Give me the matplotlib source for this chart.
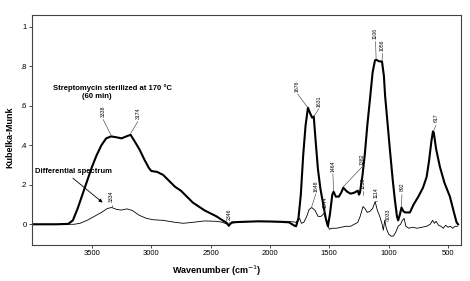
import matplotlib.pyplot as plt

plt.rcParams['font.family'] = ['Liberation Sans', 'DejaVu Sans']

# Streptomycin sterilized at 170 C (thick line)
wn_strep = [4000, 3900, 3800, 3700, 3660, 3620, 3580, 3540, 3500, 3460, 3420, 3380,
            3338, 3290, 3250, 3210, 3174, 3140, 3100, 3060, 3020, 3000, 2950, 2900,
            2850, 2800, 2750, 2700, 2650, 2600, 2550, 2500, 2450, 2400, 2370, 2346,
            2320, 2250, 2100, 2000, 1900, 1840, 1800, 1780, 1760, 1740, 1720, 1700,
            1680, 1660, 1645, 1631, 1615, 1596, 1575, 1554, 1530, 1512, 1495, 1475,
            1464, 1445, 1420, 1400, 1382, 1350, 1320, 1290, 1260, 1250, 1242, 1220,
            1200, 1180, 1158, 1135, 1115, 1106, 1080, 1056, 1040, 1030, 1015, 990,
            965, 947, 930, 920, 905, 892, 875, 860, 821, 790, 750, 711, 680, 660,
            640, 627, 620, 600, 568, 530, 484, 450, 428, 415]
km_strep = [0.0, 0.0, 0.0, 0.002, 0.02, 0.08, 0.15, 0.22, 0.29, 0.35, 0.40, 0.435,
            0.445, 0.44, 0.435, 0.445, 0.453, 0.42, 0.38, 0.33, 0.285, 0.27, 0.265, 0.25,
            0.22, 0.19, 0.17, 0.14, 0.11, 0.09, 0.07, 0.055, 0.04, 0.02, 0.01, -0.005,
            0.01, 0.012, 0.015, 0.014, 0.012, 0.01, -0.005, -0.01, 0.03, 0.15, 0.35, 0.5,
            0.59, 0.56, 0.54, 0.545, 0.42, 0.28, 0.18, 0.11, 0.03, -0.01, 0.05, 0.15,
            0.165, 0.14, 0.14, 0.16, 0.185, 0.165, 0.155, 0.16, 0.17, 0.15, 0.16, 0.25,
            0.36, 0.5, 0.63, 0.77, 0.83, 0.833, 0.825, 0.824, 0.75, 0.65, 0.55, 0.38,
            0.22, 0.12, 0.04, 0.02, 0.05, 0.085, 0.065, 0.06, 0.06, 0.1, 0.14, 0.185,
            0.24, 0.32, 0.42, 0.47, 0.465, 0.38, 0.29, 0.21, 0.14, 0.06, 0.01, 0.0]

# Differential spectrum (thin line)
wn_diff = [4000, 3700, 3650, 3600, 3540, 3480, 3420, 3370, 3334, 3290, 3250, 3205,
           3160, 3100, 3040, 2985, 2900, 2800, 2730, 2650, 2550, 2450, 2400, 2360,
           2346, 2330, 2250, 2100, 1950, 1860, 1800, 1780, 1765, 1750, 1735, 1715,
           1690, 1670, 1648, 1620, 1595, 1570, 1544, 1520, 1500, 1480, 1440, 1400,
           1360, 1320, 1290, 1260, 1240, 1216, 1200, 1180, 1160, 1135, 1114, 1095,
           1075, 1055, 1045, 1033, 1020, 1000, 980, 960, 940, 920, 900, 885, 870,
           855, 830, 800, 760, 720, 680, 650, 630, 615, 600, 580, 560, 540, 520,
           500, 480, 460, 440, 420]
km_diff = [0.0, 0.0, 0.0, 0.005, 0.02, 0.04, 0.06, 0.08, 0.085, 0.075, 0.072, 0.078,
           0.07, 0.045, 0.03, 0.023, 0.02, 0.01, 0.005, 0.01, 0.017, 0.015, 0.01, 0.0,
           -0.012, 0.005, 0.012, 0.015, 0.015, 0.015, 0.012, 0.01, 0.02, 0.03, 0.005, 0.01,
           0.04, 0.075, 0.085, 0.07, 0.04, 0.04, 0.055, 0.01, -0.025, -0.02, -0.02, -0.015,
           -0.01, -0.01, 0.0, 0.01, 0.04, 0.09, 0.08, 0.06, 0.065, 0.08, 0.115, 0.07,
           0.04, 0.0, -0.03, 0.02, -0.02, -0.05, -0.06, -0.06, -0.04, -0.01, 0.0, 0.02, 0.03,
           -0.01, -0.02, -0.015, -0.02, -0.015, -0.01, 0.0, 0.02, 0.005, 0.015, -0.005, -0.01,
           -0.02, -0.005, -0.015, -0.01, -0.02, -0.01, -0.01]

# peak labels: (text, label wn, label y, target wn, target y)
peak_labels = [
    ('3338', 3405, 0.57, 3338, 0.45),
    ('3174', 3113, 0.56, 3174, 0.46),
    ('3334', 3334, 0.14, 3334, 0.09),
    ('2346', 2346, 0.053, 2346, 0.0),
    ('1676', 1767, 0.70, 1680, 0.59),
    ('1631', 1588, 0.625, 1631, 0.545),
    ('1106', 1110, 0.965, 1106, 0.84),
    ('1056', 1052, 0.905, 1056, 0.83),
    ('617', 602, 0.54, 620, 0.475),
    ('1648', 1613, 0.195, 1648, 0.09),
    ('1544', 1537, 0.11, 1544, 0.06),
    ('1464', 1470, 0.295, 1464, 0.17),
    ('1382', 1225, 0.33, 1382, 0.19),
    ('1238', 1212, 0.21, 1212, 0.15),
    ('1114', 1102, 0.16, 1114, 0.12),
    ('1033', 1006, 0.053, 1033, 0.02),
    ('892', 888, 0.19, 892, 0.09),
]

fig = plt.figure(figsize=(4.7, 2.81), dpi=100)
ax = fig.add_axes([0.068, 0.128, 0.913, 0.819])

ax.plot(wn_strep, km_strep, color='black', lw=1.5)
ax.plot(wn_diff, km_diff, color='black', lw=0.6)

for txt, lx, ly, tx, ty in peak_labels:
    ax.text(lx, ly, txt, rotation=90, fontsize=3.7, ha='center', va='center')
    ax.plot([lx, tx], [ly - 0.04, ty], color='#333333', lw=0.4)

ax.text(3828, 0.69, 'Streptomycin sterilized at 170 \u00b0C', fontsize=5.5,
        fontweight='bold', ha='left', va='center')
ax.text(3458, 0.645, '(60 min)', fontsize=5.5, fontweight='bold',
        ha='center', va='center')
ax.annotate('Differential spectrum', xy=(3410, 0.11), xytext=(3980, 0.265),
            fontsize=5.5, fontweight='bold', ha='left', va='center',
            arrowprops=dict(arrowstyle='-|>', color='black', lw=0.6,
                            mutation_scale=5, shrinkA=0, shrinkB=0,
                            relpos=(0.45, 0.0)))

ax.set_xlim(4005, 390)
ax.set_ylim(-0.105, 1.06)
ax.set_xticks([3500, 3000, 2500, 2000, 1500, 1000, 500])
ax.set_yticks([0, 0.2, 0.4, 0.6, 0.8, 1.0])
ax.set_yticklabels(['0', '.2', '.4', '.6', '.8', '1'])
ax.tick_params(labelsize=5.5, length=2, width=0.5, pad=1.5)
for s in ax.spines.values():
    s.set_color('#444444')
    s.set_linewidth(0.8)

ax.set_xlabel('Wavenumber (cm$^{-1}$)', fontsize=6.5, fontweight='bold')
ax.xaxis.set_label_coords(0.43, -0.08)
ax.set_ylabel('Kubelka-Munk', fontsize=6.5, fontweight='bold')
ax.yaxis.set_label_coords(-0.042, 0.47)

fig.savefig('out.png', dpi=100)
